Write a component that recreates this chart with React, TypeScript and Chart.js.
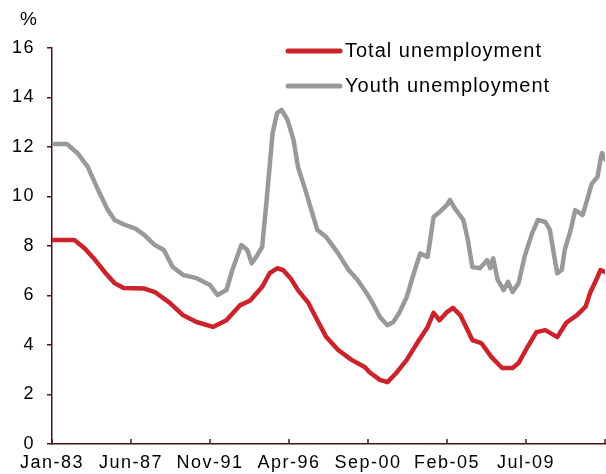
import React, { useEffect, useRef } from 'react';
import { Chart, registerables } from 'chart.js';

Chart.register(...registerables);

// Month index 0 = Jan-83
const xTickMonths = [0, 53, 106, 159, 212, 265, 318, 371];
const xTickLabels = ['Jan-83', 'Jun-87', 'Nov-91', 'Apr-96', 'Sep-00', 'Feb-05', 'Jul-09', ''];

const totalLabel = 'Total unemployment';
const totalMonths = [0, 15, 22, 29, 36, 42, 48, 62, 69, 79, 88, 97, 108, 117, 126, 133, 141, 146, 151, 155, 160, 165, 172, 178, 184, 192, 201, 210, 213, 220, 225, 231, 238, 245, 252, 256, 260, 265, 269, 274, 282, 288, 295, 302, 309, 313, 319, 325, 331, 339, 345, 352, 358, 361, 366, 368, 371];
const totalValues = [8.24, 8.24, 7.9, 7.43, 6.9, 6.5, 6.3, 6.28, 6.14, 5.7, 5.2, 4.93, 4.73, 5.0, 5.6, 5.8, 6.35, 6.9, 7.1, 7.03, 6.7, 6.22, 5.7, 5.0, 4.32, 3.8, 3.4, 3.1, 2.9, 2.59, 2.5, 2.87, 3.4, 4.08, 4.73, 5.3, 5.0, 5.33, 5.5, 5.2, 4.2, 4.08, 3.5, 3.07, 3.07, 3.27, 3.92, 4.52, 4.6, 4.32, 4.9, 5.2, 5.55, 6.1, 6.75, 7.03, 6.95];

const youthLabel = 'Youth unemployment';
const youthMonths = [0, 10, 17, 24, 31, 37, 42, 49, 56, 62, 69, 75, 81, 88, 97, 106, 111, 117, 121, 127, 131, 134, 137, 141, 144, 148, 151, 154, 158, 162, 165, 170, 174, 178, 184, 192, 199, 205, 211, 215, 220, 225, 229, 233, 238, 242, 247, 252, 254, 256, 260, 265, 267, 270, 276, 279, 282, 287, 292, 294, 296, 299, 303, 306, 309, 313, 317, 322, 326, 331, 334, 337, 339, 342, 344, 348, 351, 356, 359, 362, 366, 368, 369, 371];
const youthValues = [12.12, 12.12, 11.76, 11.2, 10.26, 9.5, 9.05, 8.85, 8.7, 8.44, 8.04, 7.84, 7.15, 6.83, 6.7, 6.42, 6.02, 6.22, 7.03, 8.04, 7.84, 7.3, 7.56, 7.96, 9.86, 12.56, 13.37, 13.5, 13.1, 12.3, 11.2, 10.26, 9.45, 8.65, 8.36, 7.7, 7.03, 6.63, 6.1, 5.7, 5.13, 4.8, 4.93, 5.3, 5.94, 6.75, 7.7, 7.56, 8.36, 9.17, 9.37, 9.66, 9.86, 9.54, 9.05, 8.24, 7.15, 7.1, 7.43, 7.1, 7.5, 6.63, 6.22, 6.55, 6.14, 6.5, 7.56, 8.5, 9.05, 8.97, 8.65, 7.56, 6.9, 7.03, 7.84, 8.65, 9.45, 9.25, 9.86, 10.5, 10.8, 11.5, 11.76, 11.5];

const AXIS_COLOR = '#4a1414';
const RED = '#cc2229';
const GREY = '#999999';
const FONT = "'Liberation Sans', Arial, sans-serif";

const toPoints = (months: number[], values: number[]) => months.map((m, i) => ({ x: m, y: values[i] }));

const spacingPlugin = {
  id: 'spacing',
  beforeInit(chart: any) {
    chart.ctx.letterSpacing = '1.5px';
  },
  beforeUpdate(chart: any) {
    chart.ctx.letterSpacing = '1.5px';
  },
  beforeDraw(chart: any) {
    chart.ctx.letterSpacing = '1.5px';
  },
};

const extrasPlugin = {
  id: 'extras',
  afterDraw(chart: any) {
    const ctx = chart.ctx;
    const xs = chart.scales.x;
    const bottom = chart.chartArea.bottom;
    ctx.save();
    // x tick marks pointing up into the plot
    ctx.strokeStyle = AXIS_COLOR;
    ctx.lineWidth = 1.5;
    xs.ticks.forEach((t: any) => {
      const px = Math.round(xs.getPixelForValue(t.value));
      ctx.beginPath();
      ctx.moveTo(px, bottom);
      ctx.lineTo(px, bottom - 5);
      ctx.stroke();
    });
    // unit label
    ctx.fillStyle = '#000';
    ctx.letterSpacing = '1px';
    ctx.font = `19px ${FONT}`;
    ctx.textAlign = 'center';
    ctx.textBaseline = 'middle';
    ctx.fillText('%', 29, 20);
    // legend
    const items = chart.data.datasets;
    ctx.font = `20px ${FONT}`;
    ctx.textAlign = 'left';
    items.forEach((ds: any, i: number) => {
      const y = 51 + i * 35;
      ctx.strokeStyle = ds.borderColor;
      ctx.lineWidth = 5;
      ctx.lineCap = 'round';
      ctx.beginPath();
      ctx.moveTo(288, y);
      ctx.lineTo(340, y);
      ctx.stroke();
      ctx.fillStyle = '#000';
      ctx.fillText(ds.label, 345, y);
    });
    ctx.restore();
  },
};

export default function App() {
  const ref = useRef<HTMLCanvasElement | null>(null);
  useEffect(() => {
    if (!ref.current) return;
    const chart = new Chart(ref.current, {
      type: 'line',
      data: {
        datasets: [
          {
            label: totalLabel,
            data: toPoints(totalMonths, totalValues),
            borderColor: RED,
            backgroundColor: RED,
            borderWidth: 4.5,
            pointRadius: 0,
            tension: 0,
            borderJoinStyle: 'round',
            borderCapStyle: 'round',
          },
          {
            label: youthLabel,
            data: toPoints(youthMonths, youthValues),
            borderColor: GREY,
            backgroundColor: GREY,
            borderWidth: 4.5,
            pointRadius: 0,
            tension: 0,
            borderJoinStyle: 'round',
            borderCapStyle: 'round',
          },
        ],
      },
      options: {
        animation: false,
        responsive: false,
        maintainAspectRatio: false,
        layout: { padding: { top: 48, left: 0, right: 1, bottom: 0 } },
        plugins: { legend: { display: false }, tooltip: { enabled: false } },
        scales: {
          x: {
            type: 'linear',
            min: 0,
            max: 371,
            afterBuildTicks: (s: any) => {
              s.ticks = xTickMonths.map((v) => ({ value: v }));
            },
            afterFit: (s: any) => {
              s.height = 30;
              s.paddingLeft = 0;
              s.paddingRight = 0;
            },
            ticks: {
              callback: (v: any) => {
                const i = xTickMonths.indexOf(Math.round(Number(v)));
                return i >= 0 ? xTickLabels[i] : '';
              },
              autoSkip: false,
              maxRotation: 0,
              color: '#000',
              padding: 8,
              font: { family: FONT, size: 18 },
            },
            grid: { display: true, drawOnChartArea: false, drawTicks: false, color: AXIS_COLOR },
            border: { display: true, color: AXIS_COLOR, width: 1.5 },
          },
          y: {
            min: 0,
            max: 16,
            afterFit: (s: any) => {
              s.width = 52;
            },
            ticks: {
              stepSize: 2,
              color: '#000',
              padding: 12,
              font: { family: FONT, size: 18 },
            },
            grid: { display: true, drawOnChartArea: false, drawTicks: true, tickLength: 5, color: AXIS_COLOR, lineWidth: 1.5 },
            border: { display: true, color: AXIS_COLOR, width: 1.5 },
          },
        },
      },
      plugins: [spacingPlugin, extrasPlugin],
    });
    return () => chart.destroy();
  }, []);
  return (
    <div style={{ position: 'fixed', left: 0, top: 0, width: 606, height: 474, background: '#fff' }}>
      <canvas ref={ref} width={606} height={474} style={{ display: 'block', width: 606, height: 474 }} />
    </div>
  );
}
